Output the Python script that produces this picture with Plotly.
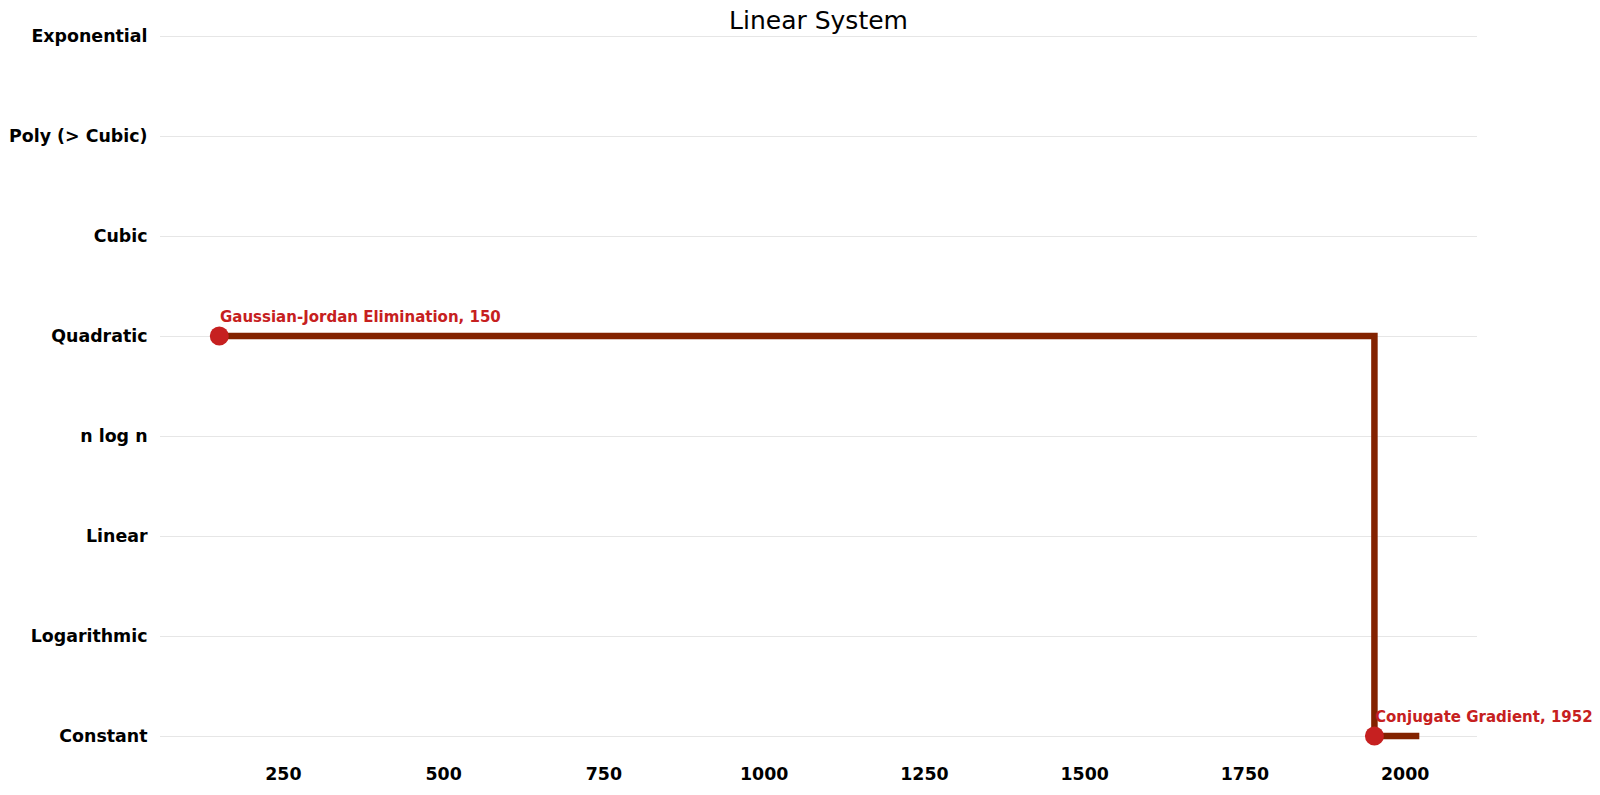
import plotly.graph_objects as go

categories = ["Constant", "Logarithmic", "Linear", "n log n", "Quadratic", "Cubic", "Poly (> Cubic)", "Exponential"]
step_years = [150, 1952, 2022]
step_levels = [4, 0, 0]
algo_names = ["Gaussian-Jordan Elimination", "Conjugate Gradient"]
algo_years = [150, 1952]
algo_levels = [4, 0]
x_ticks = [250, 500, 750, 1000, 1250, 1500, 1750, 2000]

FONT = "DejaVu Sans"
LINE_C = "#832200"
PT_C = "#C62020"

fig = go.Figure()
fig.add_trace(go.Scatter(x=step_years, y=step_levels, mode="lines", line_shape="hv",
                         line=dict(color=LINE_C, width=6.5), hoverinfo="skip", showlegend=False))
fig.add_trace(go.Scatter(x=algo_years, y=algo_levels, mode="markers",
                         marker=dict(color=PT_C, size=19), showlegend=False))
for n, x, y in zip(algo_names, algo_years, algo_levels):
    fig.add_annotation(x=x, y=y, text=f"<b>{n}, {x}</b>", showarrow=False,
                       xanchor="left", yanchor="middle", xshift=-1, yshift=19,
                       font=dict(family=FONT, size=15, color=PT_C))

fig.update_layout(
    width=1600, height=795, plot_bgcolor="white", paper_bgcolor="white",
    margin=dict(l=160, r=123, t=6, b=29),
    title=dict(text="Linear System", x=0.5, xref="paper", xanchor="center", y=0.974, yanchor="middle",
               font=dict(family=FONT, size=25, color="black")),
    font=dict(family=FONT, color="black"),
)
fig.update_xaxes(range=[57.5, 2112], tickvals=x_ticks, showgrid=False, zeroline=False, showline=False,
                 ticks="", ticklabelstandoff=-4, automargin=False,
                 tickfont=dict(family=FONT, size=17.4, color="black", weight="bold"))
fig.update_yaxes(range=[-0.3, 7.3], tickvals=list(range(len(categories))), ticktext=categories,
                 showgrid=True, gridcolor="#e6e6e6", gridwidth=1, zeroline=False, showline=False,
                 ticks="outside", ticklen=8, tickcolor="white", automargin=False,
                 tickfont=dict(family=FONT, size=17.4, color="black", weight="bold"))
fig.write_html("out.html")
